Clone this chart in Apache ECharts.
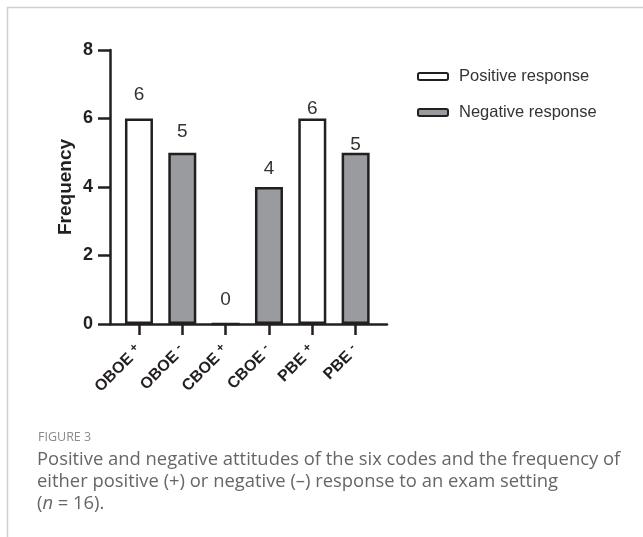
<!DOCTYPE html>
<html><head><meta charset="utf-8">
<script src="https://cdn.jsdelivr.net/npm/echarts@6/dist/echarts.min.js"></script>
<style>html,body{margin:0;padding:0;background:#fff}#c{width:643px;height:537px}</style>
</head><body><div id="c"></div>
<script>
const categories = ['OBOE +', 'OBOE -', 'CBOE +', 'CBOE -', 'PBE +', 'PBE -'];
const positiveValues = [6, null, 0, null, 6, null];
const negativeValues = [null, 5, null, 4, null, 5];
const yTicks = [0, 2, 4, 6, 8];
const seriesNames = ['Positive response', 'Negative response'];

const labelGaps = [14, 11, 13, 9, 0, -2];
const ink = '#231f20';
const chart = echarts.init(document.getElementById('c'), null, {renderer: 'canvas'});

function mkData(vals) {
  return vals.map((v, i) => v === null ? '-' : {
    value: v,
    label: {distance: labelGaps[i]}
  });
}

const option = {
  animation: false,
  backgroundColor: '#fff',
  title: [
    {text: 'FIGURE 3', left: 33, top: 426,
     textStyle: {fontFamily: 'Open Sans', fontSize: 12.5, fontWeight: 'normal', color: '#8a8a8a'}},
    {text: 'Positive and negative attitudes of the six codes and the frequency of\neither positive (+) or negative (\u2013) response to an exam setting\n({i|n} = 16).',
     left: 32, top: 444,
     textStyle: {fontFamily: 'Open Sans', fontSize: 18.4, fontWeight: 'normal', color: '#666', lineHeight: 22,
       rich: {i: {fontFamily: 'Open Sans', fontSize: 18.4, fontStyle: 'italic', color: '#666', lineHeight: 22}}}}
  ],
  legend: {
    orient: 'vertical', left: 412, top: 63,
    itemWidth: 30, itemHeight: 7, itemGap: 19,
    data: seriesNames,
    textStyle: {fontFamily: 'Liberation Sans', fontSize: 16.5, color: '#333', padding: [0, 0, 0, 6]}
  },
  grid: [
    {left: 110, top: 50, width: 277, height: 274},
    {left: 117.3, top: 50, width: 260, height: 274}
  ],
  xAxis: [
    {type: 'value', gridIndex: 0, min: 0, max: 1, axisLine: {show: true, lineStyle: {color: ink, width: 2.5}},
     axisTick: {show: false}, axisLabel: {show: false}, splitLine: {show: false}},
    {type: 'category', gridIndex: 1, data: categories,
     axisLine: {show: false},
     axisTick: {show: true, alignWithLabel: true, length: 11, lineStyle: {color: ink, width: 2.5}},
     axisLabel: {rotate: 45, margin: 24, fontFamily: 'Liberation Sans', fontWeight: 'bold', fontSize: 16, color: ink,
       formatter: v => { const p = v.split(' '); return '{a|' + p[0] + ' }{s|' + p[1] + '}'; },
       rich: {a: {fontFamily: 'Liberation Sans', fontWeight: 'bold', fontSize: 16, color: ink},
              s: {fontFamily: 'Liberation Sans', fontWeight: 'bold', fontSize: 12, color: ink, verticalAlign: 'top', padding: [0, 0, 7, 0]}}}}
  ],
  yAxis: [
    {type: 'value', gridIndex: 0, min: 0, max: 8, interval: 2,
     name: 'Frequency', nameLocation: 'middle', nameGap: 35,
     nameTextStyle: {fontFamily: 'Liberation Sans', fontWeight: 'bold', fontSize: 19, color: ink},
     axisLine: {show: true, lineStyle: {color: ink, width: 2.5}},
     axisTick: {show: true, length: 12, lineStyle: {color: ink, width: 2.5}},
     axisLabel: {margin: 17, fontFamily: 'Liberation Sans', fontWeight: 'bold', fontSize: 18, color: ink,
       formatter: v => yTicks.includes(v) ? String(v) : ''},
     splitLine: {show: false}},
    {type: 'value', gridIndex: 1, min: 0, max: 8, show: false}
  ],
  series: [
    {name: seriesNames[0], type: 'bar', xAxisIndex: 1, yAxisIndex: 1, data: mkData(positiveValues),
     barWidth: 28, barGap: '-100%',
     itemStyle: {color: '#ffffff', borderColor: ink, borderWidth: 2.5},
     label: {show: true, position: 'top', fontFamily: 'Liberation Sans', fontSize: 19, color: '#333'}},
    {name: seriesNames[1], type: 'bar', xAxisIndex: 1, yAxisIndex: 1, data: mkData(negativeValues),
     barWidth: 28, barGap: '-100%',
     itemStyle: {color: '#999b9f', borderColor: ink, borderWidth: 2.5},
     label: {show: true, position: 'top', fontFamily: 'Liberation Sans', fontSize: 19, color: '#333'}}
  ],
  graphic: [
    {type: 'polyline', silent: true, shape: {points: [[7.5, 537], [7.5, 7.5], [643, 7.5]]},
     style: {stroke: '#cfcfcf', lineWidth: 1.5, fill: null}}
  ]
};
chart.setOption(option);
</script>
</body></html>
